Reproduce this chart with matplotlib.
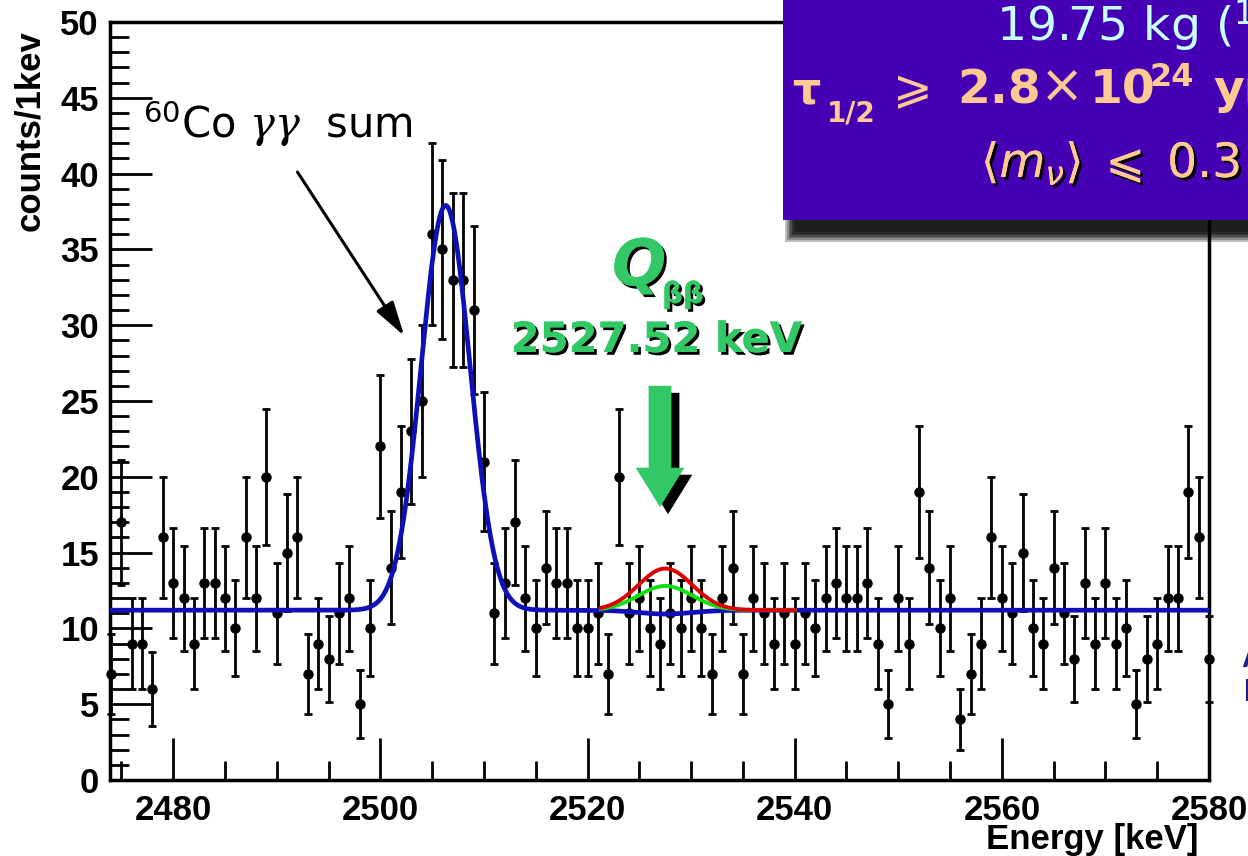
import numpy as np
import matplotlib
matplotlib.use("Agg")
import matplotlib.pyplot as plt
import matplotlib.patches as mpatches
import matplotlib.patheffects as pe
from matplotlib.ticker import MultipleLocator
from matplotlib.transforms import offset_copy

# spectrum (1 keV bins)
energy = np.arange(2474, 2581)
counts = [7, 17, 9, 9, 6, 16, 13, 12, 9, 13,        # 2474-2483
          13, 12, 10, 16, 12, 20, 11, 15, 16, 7,    # 2484-2493
          9, 8, 11, 12, 5, 10, 22, 14, 19, 23,      # 2494-2503
          25, 36, 35, 33, 33, 31, 21, 11, 13, 17,   # 2504-2513
          12, 10, 14, 13, 13, 10, 10, 11, 7, 20,    # 2514-2523
          11, 12, 10, 9, 11, 10, 12, 10, 7, 12,     # 2524-2533
          14, 7, 12, 11, 9, 11, 9, 11, 10, 12,      # 2534-2543
          13, 12, 12, 13, 9, 5, 12, 9, 19, 14,      # 2544-2553
          10, 12, 4, 7, 9, 16, 12, 11, 15, 10,      # 2554-2563
          9, 14, 11, 8, 13, 9, 13, 9, 10, 5,        # 2564-2573
          8, 9, 12, 12, 19, 16, 8]                  # 2574-2580
counts = np.array(counts, dtype=float)
errors = np.sqrt(counts)

# fit parameters (estimated from the drawn curves)
bkg = 11.2
co_mu, co_amp, co_sig = 2506.3, 26.7, 2.35
q_bb = 2527.52
sig_sigma = 2.6
amp_blue = -0.25
amp_red = 2.75
amp_green = 1.6

W, H = 1248, 856


def fxy(x, y):
    return x / W, 1 - y / H


def gauss(x, mu, a, s):
    return a * np.exp(-0.5 * ((x - mu) / s) ** 2)


plt.rcParams['font.family'] = 'Liberation Sans'
plt.rcParams['mathtext.fontset'] = 'custom'
plt.rcParams['mathtext.rm'] = 'DejaVu Sans'
plt.rcParams['mathtext.it'] = 'DejaVu Serif:italic'
plt.rcParams['mathtext.bf'] = 'DejaVu Sans:bold'

fig = plt.figure(figsize=(W / 100, H / 100), dpi=100)
ax = fig.add_axes([110 / W, 76 / H, 1099 / W, 758 / H])

ax.errorbar(energy, counts, yerr=errors, fmt='o', color='black', ms=6.5,
            elinewidth=2, capsize=3, capthick=2, clip_on=False, zorder=3)

xf = np.linspace(2473.9, 2580, 1500)
ax.plot(xf, bkg + gauss(xf, co_mu, co_amp, co_sig) + gauss(xf, q_bb, amp_blue, sig_sigma),
        color='#1010B8', lw=3.4, zorder=4)
xs = np.linspace(2521.3, 2540, 300)
ax.plot(xs, bkg + gauss(xs, q_bb, amp_green, sig_sigma), color='#10E010', lw=2.8, zorder=5)
ax.plot(xs, bkg + gauss(xs, q_bb, amp_red, sig_sigma), color='#E00000', lw=2.8, zorder=6)

ax.set_xlim(2473.9, 2580)
ax.set_ylim(0, 50)
ax.xaxis.set_major_locator(MultipleLocator(20))
ax.xaxis.set_minor_locator(MultipleLocator(5))
ax.yaxis.set_major_locator(MultipleLocator(5))
ax.yaxis.set_minor_locator(MultipleLocator(1))
ax.tick_params(which='both', direction='in', width=2, top=False, right=False,
               labelsize=25)
ax.tick_params(which='major', length=30)
ax.tick_params(which='minor', length=14)
ax.tick_params(axis='x', pad=10)
ax.tick_params(axis='y', pad=8)
for lbl in ax.get_xticklabels() + ax.get_yticklabels():
    lbl.set_fontweight('bold')
for s in ax.spines.values():
    s.set_linewidth(2.5)

fig.text(*fxy(30, 30), 'counts/1kev', rotation=90, ha='center', va='top',
         fontsize=25, fontweight='bold')
fig.text(*fxy(1199, 823), 'Energy [keV]', ha='right', va='top',
         fontsize=25, fontweight='bold')

# 60Co label and arrow
ax.text(2477.1, 42.35, r'$^{60}$Co $\gamma\gamma$  sum', family='DejaVu Sans',
        fontsize=30, fontweight='normal', va='baseline', ha='left')
ax.annotate('', xy=(2502.3, 29.3), xytext=(2492.0, 40.1),
            arrowprops=dict(arrowstyle='-|>,head_length=0.7,head_width=0.2',
                            color='black', lw=2.2, mutation_scale=30,
                            shrinkA=0, shrinkB=0))

# Q_bb label and arrow
green = '#33C866'
shadow_txt = [pe.withSimplePatchShadow(offset=(2, -2), shadow_rgbFace='black', alpha=1.0),
              pe.Normal()]
fig.text(*fxy(612, 285), 'Q', family='DejaVu Sans', fontsize=46, fontweight='bold',
         style='italic', color=green, ha='left', va='baseline', path_effects=shadow_txt)
fig.text(*fxy(662, 303), 'ββ', family='DejaVu Sans', fontsize=21, fontweight='bold',
         color=green, ha='left', va='baseline', path_effects=shadow_txt)
fig.text(*fxy(656, 352), '2527.52 keV', family='DejaVu Sans', fontsize=30,
         fontweight='bold', color=green, ha='center', va='baseline', path_effects=shadow_txt)

arrow_kw = dict(width=2.2, head_width=4.7, head_length=2.6, length_includes_head=True,
                clip_on=False, lw=0)
ax.add_patch(mpatches.FancyArrow(2527.0, 26.0, 0, -8.0, color='black', zorder=7,
                                 transform=offset_copy(ax.transData, fig=fig, x=8, y=-7,
                                                       units='dots'), **arrow_kw))
ax.add_patch(mpatches.FancyArrow(2527.0, 26.0, 0, -8.0, color=green, zorder=8, **arrow_kw))

# purple result box with blurred shadow (pixel coordinates)
for k in range(7):
    d = k * 1.6
    fig.add_artist(mpatches.Rectangle((795 - d, H - 232 - d), 500 + 2 * d, 240 + 2 * d,
                                      transform=None, color='black', alpha=0.26,
                                      lw=0, zorder=1))
fig.add_artist(mpatches.Rectangle((782.5, H - 220), 500, 240, transform=None,
                                  color='#4600B4', lw=0, zorder=2))

peach = '#FFC993'
fig.text(*fxy(996, 42), r'19.75 kg ($^{130}$Te)', family='DejaVu Sans', fontsize=34,
         color='#C8FFFF', ha='left', va='baseline', zorder=5)
fig.text(*fxy(792, 103), 'τ', family='DejaVu Sans', fontsize=32, fontweight='bold',
         color=peach, ha='left', va='baseline', zorder=5)
fig.text(*fxy(827, 122), '1/2', family='DejaVu Sans', fontsize=20, fontweight='bold',
         color=peach, ha='left', va='baseline', zorder=5)
fig.text(*fxy(893, 103), '⩾', family=['DejaVu Sans', 'Noto Sans'], fontsize=34,
         color=peach, ha='left', va='baseline', zorder=5)
fig.text(*fxy(957, 103), '2.8', family='DejaVu Sans', fontsize=34, fontweight='bold',
         color=peach, ha='left', va='baseline', zorder=5)
fig.text(*fxy(1040, 103), '×', family='DejaVu Sans', fontsize=38,
         color=peach, ha='left', va='baseline', zorder=5)
fig.text(*fxy(1090, 103), '10', family='DejaVu Sans', fontsize=34, fontweight='bold',
         color=peach, ha='left', va='baseline', zorder=5)
fig.text(*fxy(1150, 86), '24', family='DejaVu Sans', fontsize=23, fontweight='bold',
         color=peach, ha='left', va='baseline', zorder=5)
fig.text(*fxy(1213, 103), 'yr', family='DejaVu Sans', fontsize=34, fontweight='bold',
         color=peach, ha='left', va='baseline', zorder=5)
fig.text(*fxy(981, 177), r'$\langle m_{\nu}\rangle\;\leqslant\;0.3$', fontsize=34,
         color=peach, ha='left', va='baseline', math_fontfamily='dejavusans', zorder=5,
         path_effects=shadow_txt)

# clipped fragments at the right border
fig.text(*fxy(1241, 667), 'A', fontsize=22, fontweight='bold', color='#1E1E8C',
         ha='left', va='baseline')
fig.text(*fxy(1244, 701), 'I', fontsize=22, fontweight='bold', color='#1E1E8C',
         ha='left', va='baseline')

fig.savefig('out.png', dpi=100)
